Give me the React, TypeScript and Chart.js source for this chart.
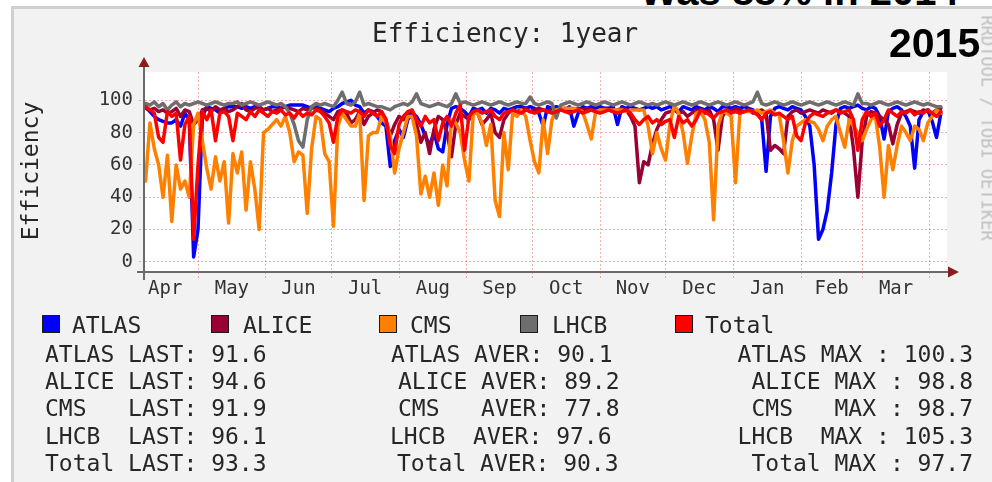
import React, { useEffect, useRef } from "react";
import { Chart, registerables } from "chart.js";

Chart.register(...registerables);

const MONO = "'DejaVu Sans Mono', monospace";
const SANS = "'Liberation Sans', Arial, sans-serif";

// one sample every 2 days, day offsets counted from 1 Apr 2014
const FIRST_DAY = 6;
const DAY_STEP = 2;

const ATLAS = [
  96, 93, 90, 88, 87, 86, 86, 88, 84, 92,
  88, 3, 20, 90, 96, 95, 94, 92, 95, 96,
  96, 96, 95, 96, 95, 96, 95, 94, 95, 96,
  96, 95, 96, 97, 97, 97, 97, 96, 95, 96,
  95, 94, 93, 95, 96, 98, 99, 100, 97, 96,
  92, 94, 93, 90, 86, 84, 59, 75, 82, 77,
  88, 92, 90, 85, 78, 72, 80, 70, 68, 85,
  95, 96, 95, 93, 90, 95, 94, 95, 92, 95,
  94, 92, 95, 94, 95, 96, 96, 95, 96, 95,
  92, 84, 96, 95, 96, 95, 94, 96, 84, 92,
  96, 95, 96, 95, 96, 95, 95, 96, 85, 96,
  95, 96, 95, 94, 95, 96, 95, 96, 94, 95,
  96, 95, 93, 96, 95, 94, 96, 95, 94, 96,
  95, 93, 96, 96, 95, 96, 95, 96, 95, 94,
  92, 88, 56, 90, 95, 96, 95, 94, 96, 95,
  94, 90, 84, 60, 14, 20, 32, 55, 85, 95,
  96, 95, 96, 97, 95, 94, 96, 95, 90, 76,
  93, 95, 96, 94, 90, 84, 58, 88, 93, 94,
  87, 77, 92,
];

const ALICE = [
  95, 94, 95, 93, 94, 92, 93, 95, 90, 94,
  93, 85, 88, 94, 95, 93, 96, 94, 95, 93,
  94, 96, 98, 94, 93, 95, 96, 94, 95, 93,
  94, 95, 96, 95, 94, 93, 95, 94, 96, 95,
  94, 92, 90, 88, 93, 94, 92, 86, 88, 93,
  85, 90, 92, 94, 93, 88, 78, 85, 90, 88,
  92, 93, 85, 74, 80, 67, 82, 90, 88, 80,
  65, 85, 92, 90, 88, 93, 92, 85, 88, 92,
  80, 77, 88, 92, 94, 93, 94, 95, 93, 94,
  95, 94, 93, 95, 94, 94, 95, 93, 94, 95,
  94, 95, 94, 93, 94, 95, 94, 93, 94, 95,
  94, 90, 84, 49, 62, 60, 73, 82, 88, 92,
  93, 94, 92, 93, 90, 92, 94, 93, 92, 94,
  88, 69, 90, 94, 93, 95, 94, 93, 94, 92,
  93, 94, 92, 69, 72, 70, 67, 90, 93, 94,
  92, 93, 94, 93, 92, 94, 93, 92, 94, 93,
  92, 90, 70, 40, 75, 90, 93, 92, 90, 88,
  85, 73, 85, 92, 93, 94, 93, 92, 94, 93,
  92, 94, 95,
];

const CMS = [
  50, 86, 70, 60, 40, 66, 25, 60, 45, 50,
  40, 85, 92, 75, 58, 45, 65, 50, 62, 24,
  67, 55, 68, 32, 62, 45, 20, 80, 82, 85,
  88, 84, 90, 80, 62, 68, 66, 30, 70, 90,
  88, 67, 62, 22, 84, 92, 88, 84, 84, 92,
  38, 78, 80, 80, 90, 86, 78, 55, 70, 80,
  90, 90, 78, 42, 53, 40, 55, 35, 60, 47,
  88, 86, 80, 63, 50, 92, 92, 86, 72, 85,
  38, 28, 80, 57, 92, 90, 94, 90, 75, 62,
  55, 88, 67, 88, 94, 95, 95, 95, 95, 94,
  93, 85, 76, 93, 94, 94, 94, 94, 94, 94,
  93, 94, 94, 94, 94, 84, 67, 80, 70, 63,
  85, 97, 92, 80, 61, 78, 92, 93, 88, 74,
  26, 84, 93, 92, 90, 49, 92, 93, 93, 93,
  94, 92, 93, 94, 92, 91, 75, 55, 75, 84,
  86, 88, 87, 86, 82, 75, 84, 88, 90, 80,
  71, 88, 84, 80, 75, 82, 88, 90, 71, 40,
  72, 57, 72, 84, 80, 75, 84, 82, 75, 86,
  90, 94, 92,
];

const LHCB = [
  98, 97, 99, 96, 98, 94, 97, 99, 96, 98,
  97, 98, 99, 98, 97, 98, 99, 98, 97, 98,
  98, 99, 97, 98, 99, 98, 97, 98, 99, 98,
  97, 98, 96, 92, 85, 75, 71, 88, 96, 98,
  97, 98, 97, 96, 100, 105, 98, 97, 99, 105,
  97, 98, 97, 96, 96, 95, 94, 96, 97, 98,
  97, 99, 104, 98, 97, 96, 97, 98, 97, 96,
  98, 104, 98, 99, 98, 97, 98, 99, 98, 97,
  98, 99, 98, 97, 98, 99, 98, 98, 102, 98,
  97, 98, 99, 98, 89, 97, 98, 99, 98, 97,
  98, 99, 98, 97, 98, 99, 98, 97, 98, 99,
  98, 97, 98, 99, 98, 97, 98, 97, 98, 99,
  98, 97, 98, 99, 98, 97, 98, 99, 98, 97,
  98, 99, 98, 97, 98, 99, 98, 97, 98, 99,
  105, 98, 97, 98, 99, 98, 97, 98, 99, 98,
  97, 98, 99, 98, 97, 98, 99, 98, 97, 98,
  99, 98, 97, 104, 98, 98, 97, 98, 99, 98,
  97, 98, 99, 98, 97, 98, 99, 98, 97, 98,
  97, 96, 96,
];

const TOTAL = [
  96, 94, 92, 77, 74, 93, 90, 92, 63, 85,
  90, 14, 60, 93, 88, 94, 75, 92, 93, 90,
  75, 92, 90, 88, 93, 90, 94, 92, 90, 93,
  92, 94, 91, 92, 89, 93, 90, 92, 91, 94,
  93, 90, 86, 74, 90, 94, 93, 92, 94, 93,
  90, 94, 92, 90, 93, 88, 72, 67, 85, 90,
  93, 94, 88, 84, 90, 86, 88, 75, 86, 90,
  84, 92, 97, 69, 90, 93, 94, 92, 93, 94,
  90, 88, 92, 93, 94, 93, 92, 94, 93, 92,
  93, 94, 93, 92, 93, 94, 93, 92, 93, 94,
  92, 93, 94, 93, 92, 93, 94, 93, 92, 93,
  94, 92, 88, 85, 88, 90, 86, 88, 85, 87,
  88, 77, 90, 86, 88, 84, 88, 94, 93, 91,
  89, 92, 93, 94, 92, 93, 92, 93, 94, 93,
  91, 88, 92, 93, 91, 92, 90, 88, 90, 78,
  75, 86, 90, 92, 91, 90, 92, 93, 94, 92,
  93, 94, 88, 69, 88, 93, 90, 92, 84, 88,
  94, 92, 90, 93, 92, 94, 91, 93, 92, 94,
  92, 90, 93,
];

const DAYS = ATLAS.map((_, i) => FIRST_DAY + DAY_STEP * i);

const MONTH_NAMES = ["Apr", "May", "Jun", "Jul", "Aug", "Sep", "Oct", "Nov", "Dec", "Jan", "Feb", "Mar"];
const MONTH_MID_DAYS = [15, 45.5, 76, 106.5, 137.5, 168, 198.5, 229, 259.5, 290.5, 320, 349.5];
const MONTH_START_DAYS = [30, 61, 91, 122, 153, 183, 214, 244, 275, 306, 334, 365];

const Y_GRID = [0, 10, 20, 30, 40, 50, 60, 70, 80, 90, 100, 110];
const Y_LABELED = [0, 20, 40, 60, 80, 100];

const SERIES_NAMES = ["ATLAS", "ALICE", "CMS", "LHCB", "Total"];
const SERIES_DATA = [ATLAS, ALICE, CMS, LHCB, TOTAL];
const SERIES_COLORS = ["#0000ff", "#990033", "#ff8000", "#6e6e6e", "#ff0000"];

const LAST_VALUES = ["91.6", "94.6", "91.9", "96.1", "93.3"];
const AVER_VALUES = ["90.1", "89.2", "77.8", "97.6", "90.3"];
const MAX_VALUES = ["100.3", "98.8", "98.7", "105.3", "97.7"];

const GRID_MAJOR = "rgba(235, 110, 110, 0.55)";
const GRID_MINOR = "rgba(210, 170, 170, 0.45)";
const TEXT = "#262626";

const framePlugin = {
  id: "rrdFrame",
  beforeDraw(chart: any) {
    const { ctx, chartArea: a } = chart;
    ctx.save();
    ctx.fillStyle = "#ffffff";
    ctx.fillRect(a.left, a.top, a.right - a.left, a.bottom - a.top);
    ctx.restore();
  },
  afterDatasetsDraw(chart: any) {
    const { ctx, chartArea: a } = chart;
    ctx.save();
    ctx.strokeStyle = "#6a6a6a";
    ctx.lineWidth = 2;
    ctx.beginPath();
    ctx.moveTo(a.left - 1, a.top - 7);
    ctx.lineTo(a.left - 1, a.bottom + 8);
    ctx.moveTo(a.left - 8, a.bottom);
    ctx.lineTo(a.right + 3, a.bottom);
    ctx.stroke();
    ctx.fillStyle = "#8b1c1c";
    ctx.beginPath();
    ctx.moveTo(a.left - 1, a.top - 15);
    ctx.lineTo(a.left - 6.5, a.top - 5);
    ctx.lineTo(a.left + 4.5, a.top - 5);
    ctx.closePath();
    ctx.fill();
    ctx.beginPath();
    ctx.moveTo(a.right + 12, a.bottom);
    ctx.lineTo(a.right + 1, a.bottom - 5.5);
    ctx.lineTo(a.right + 1, a.bottom + 5.5);
    ctx.closePath();
    ctx.fill();
    ctx.restore();
  },
};

function Txt(props: { x?: number; right?: number; y: number; size: number; font?: string; bold?: boolean; color?: string; children: any; z?: number }) {
  const { x, right, y, size, font = MONO, bold = false, color = TEXT, children, z = 2 } = props;
  const style: any = {
    position: "absolute",
    top: y - 0.846 * size,
    fontFamily: font,
    fontSize: size,
    lineHeight: 1,
    fontWeight: bold ? 700 : 400,
    color,
    whiteSpace: "pre",
    zIndex: z,
  };
  if (right !== undefined) style.right = right;
  else style.left = x;
  return <div style={style}>{children}</div>;
}

export default function App() {
  const canvasRef = useRef<HTMLCanvasElement | null>(null);

  useEffect(() => {
    const canvas = canvasRef.current;
    if (!canvas) return;
    const chart = new Chart(canvas, {
      type: "line",
      data: {
        datasets: SERIES_NAMES.map((name, i) => ({
          label: name,
          data: DAYS.map((d, j) => ({ x: d, y: SERIES_DATA[i][j] })),
          borderColor: SERIES_COLORS[i],
          backgroundColor: SERIES_COLORS[i],
          borderWidth: 3.5,
          pointRadius: 0,
          tension: 0,
          fill: false,
          borderJoinStyle: "round",
          borderCapStyle: "round",
          order: SERIES_NAMES.length - 1 - i,
        })),
      },
      options: {
        animation: false,
        responsive: false,
        maintainAspectRatio: false,
        devicePixelRatio: 1,
        events: [],
        layout: { padding: { left: 0, top: 72, right: 45, bottom: 0 } },
        plugins: {
          legend: { display: false },
          title: { display: false },
          tooltip: { enabled: false },
        },
        scales: {
          x: {
            type: "linear",
            position: "bottom",
            min: 5.74,
            max: 372.8,
            afterBuildTicks: (scale: any) => {
              scale.ticks = [...MONTH_START_DAYS, ...MONTH_MID_DAYS]
                .sort((a, b) => a - b)
                .map((v) => ({ value: v }));
            },
            afterFit: (scale: any) => {
              scale.height = 210;
            },
            ticks: {
              autoSkip: false,
              maxRotation: 0,
              minRotation: 0,
              padding: 0,
              color: "#333333",
              font: { family: MONO, size: 19 },
              callback: (v: any) => {
                const i = MONTH_MID_DAYS.indexOf(Number(v));
                return i >= 0 ? MONTH_NAMES[i] : "";
              },
            },
            grid: {
              color: (c: any) =>
                c.tick && MONTH_START_DAYS.includes(c.tick.value) ? GRID_MAJOR : "rgba(0,0,0,0)",
              lineWidth: 1,
              drawTicks: true,
              tickLength: 6,
              tickBorderDash: [2, 2],
            },
            border: { display: false, dash: [2, 2] },
          },
          y: {
            min: -6.3,
            max: 117.5,
            afterBuildTicks: (scale: any) => {
              scale.ticks = Y_GRID.map((v) => ({ value: v }));
            },
            afterFit: (scale: any) => {
              scale.width = 145;
            },
            ticks: {
              padding: 6,
              color: "#333333",
              font: { family: MONO, size: 19 },
              callback: (v: any) => (Y_LABELED.includes(Number(v)) ? String(v) : ""),
            },
            grid: {
              color: (c: any) =>
                c.tick && Y_LABELED.includes(c.tick.value) ? GRID_MAJOR : GRID_MINOR,
              lineWidth: 1,
              drawTicks: true,
              tickLength: 6,
              tickBorderDash: [2, 2],
            },
            border: { display: false, dash: [2, 2] },
          },
        },
      } as any,
      plugins: [framePlugin],
    });
    return () => chart.destroy();
  }, []);

  const col2Left = [391, 398, 398, 390, 397];
  const legendSwatchX = [42, 211, 379, 520, 675];
  const legendTextX = [72, 243, 410, 552, 705];
  const rowBase = [362, 389, 416, 444, 471];

  return (
    <div style={{ position: "fixed", left: 0, top: 0, width: 992, height: 482, background: "#ffffff", overflow: "hidden" }}>
      <Txt x={640} y={5} size={40} font={SANS} bold color="#000" z={0}>Was 88% in 2014</Txt>
      <div
        style={{
          position: "absolute",
          left: 11,
          top: 6,
          right: 0,
          bottom: 0,
          background: "#f2f2f2",
          borderLeft: "3px solid #d0d0d0",
          borderTop: "3px solid #d0d0d0",
          zIndex: 1,
        }}
      />
      <canvas
        ref={canvasRef}
        width={992}
        height={482}
        style={{ position: "absolute", left: 0, top: 0, width: 992, height: 482, zIndex: 2 }}
      />
      <Txt x={372} y={42} size={26}>Efficiency: 1year</Txt>
      <Txt x={889} y={58} size={41} font={SANS} bold color="#000" z={3}>2015</Txt>
      <div
        style={{
          position: "absolute",
          left: 30,
          top: 171,
          transform: "translate(-50%, -50%) rotate(-90deg)",
          fontFamily: MONO,
          fontSize: 23,
          lineHeight: 1,
          color: TEXT,
          whiteSpace: "nowrap",
          zIndex: 3,
        }}
      >
        Efficiency
      </div>
      <div
        style={{
          position: "absolute",
          left: 987,
          top: 128,
          transform: "translate(-50%, -50%) rotate(90deg)",
          fontFamily: MONO,
          fontSize: 17,
          lineHeight: 1,
          color: "#bdbdbd",
          whiteSpace: "pre",
          zIndex: 3,
        }}
      >
        RRDTOOL / TOBI OETIKER
      </div>
      {SERIES_NAMES.map((name, i) => (
        <React.Fragment key={name}>
          <div
            style={{
              position: "absolute",
              left: legendSwatchX[i],
              top: 315,
              width: 18,
              height: 18,
              boxSizing: "border-box",
              border: "1.5px solid #1a1a1a",
              background: SERIES_COLORS[i],
              zIndex: 3,
            }}
          />
          <Txt x={legendTextX[i]} y={333} size={23} z={3}>{name}</Txt>
        </React.Fragment>
      ))}
      {SERIES_NAMES.map((name, i) => (
        <React.Fragment key={"s" + name}>
          <Txt x={45} y={rowBase[i]} size={23} z={3}>{name.padEnd(6) + "LAST: " + LAST_VALUES[i]}</Txt>
          <Txt x={col2Left[i]} y={rowBase[i]} size={23} z={3}>{name.padEnd(6) + "AVER: " + AVER_VALUES[i]}</Txt>
          <Txt right={19} y={rowBase[i]} size={23} z={3}>{name.padEnd(6) + "MAX : " + MAX_VALUES[i]}</Txt>
        </React.Fragment>
      ))}
    </div>
  );
}
